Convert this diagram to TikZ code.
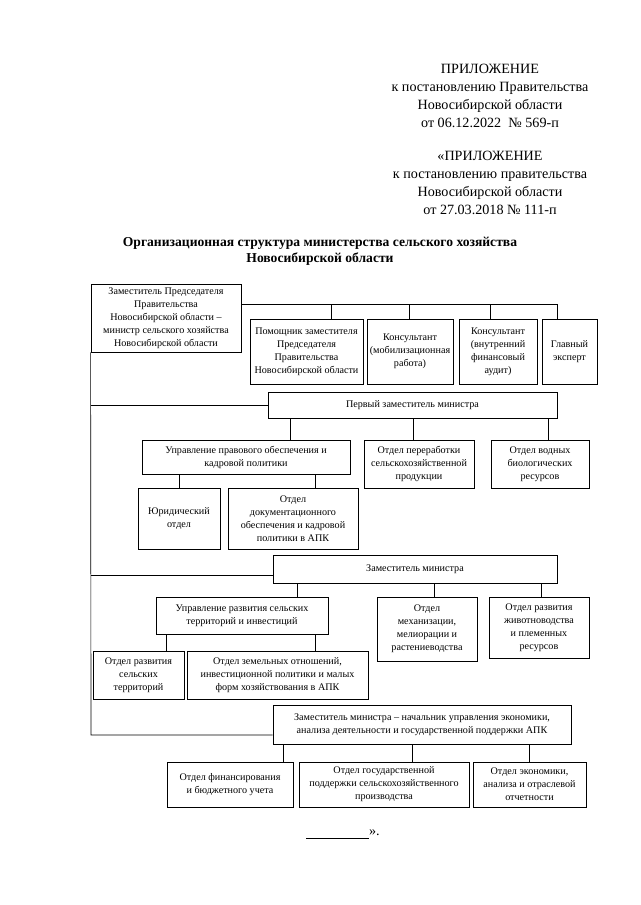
\documentclass[tikz,border=0pt]{standalone}
\usepackage{fontspec}
\setmainfont{Liberation Serif}
\usetikzlibrary{positioning}

\begin{document}
\begin{tikzpicture}[
  x=0.75pt, y=-0.75pt,
  box/.style={draw, align=center, inner sep=1pt, line width=0.6pt, font=\fontsize{7.6}{9.7}\selectfont},
  wd/.style={minimum width=#1*0.75pt},
  ht/.style={minimum height=#1*0.75pt},
  hdr/.style={align=center, inner sep=0pt, font=\fontsize{10.6}{13.5}\selectfont},
  link/.style={draw, line width=0.5pt}
]
\fill[white] (0,0) rectangle (640,905);
\useasboundingbox (0,0) rectangle (640,905);

\node[hdr] (app1) at (490,96) {ПРИЛОЖЕНИЕ\\к постановлению Правительства\\Новосибирской области\\от 06.12.2022\ \ №~569-п};
\node[hdr] (app2) at (490,183) {«ПРИЛОЖЕНИЕ\\к постановлению правительства\\Новосибирской области\\от 27.03.2018 №~111-п};
\node[align=center, inner sep=0pt, font=\fontsize{10.2}{12}\selectfont\bfseries] (title) at (320,251) {Организационная структура министерства сельского хозяйства\\Новосибирской области};

\node[box, wd=150, ht=68] (zam) at (166,318) {Заместитель Председателя\\Правительства\\Новосибирской области –\\министр сельского хозяйства\\Новосибирской области};
\node[box, wd=113, ht=65] (pom) at (306.5,351.5) {Помощник заместителя\\Председателя\\Правительства\\Новосибирской области};
\node[box, wd=86, ht=65] (kons1) at (410,351.5) {Консультант\\(мобилизационная\\работа)};
\node[box, wd=78, ht=65] (kons2) at (498,351.5) {Консультант\\(внутренний\\финансовый\\аудит)};
\node[box, wd=55, ht=65] (glav) at (569.5,351.5) {Главный\\эксперт};

\node[box, wd=289, ht=26] (perv) at (412.5,405) {Первый заместитель министра};
\node[box, wd=208, ht=34] (upr1) at (246,457) {Управление правового обеспечения и\\кадровой политики};
\node[box, wd=110, ht=48] (pererab) at (419,464) {Отдел переработки\\сельскохозяйственной\\продукции};
\node[box, wd=98, ht=48] (vodn) at (540,464) {Отдел водных\\биологических\\ресурсов};
\node[box, wd=82, ht=61] (yur) at (179,518.5) {Юридический\\отдел};
\node[box, wd=130, ht=61] (dok) at (293,518.5) {Отдел\\документационного\\обеспечения и кадровой\\политики в АПК};

\node[box, wd=284, ht=28] (zam2) at (415,569) {Заместитель министра};
\node[box, wd=172, ht=37] (upr2) at (242,615.5) {Управление развития сельских\\территорий и инвестиций};
\node[box, wd=100, ht=64] (mech) at (427,629) {Отдел\\механизации,\\мелиорации и\\растениеводства};
\node[box, wd=100, ht=61] (zhiv) at (539,627.5) {Отдел развития\\животноводства\\и племенных\\ресурсов};
\node[box, wd=91, ht=48] (razv) at (138.5,675) {Отдел развития\\сельских\\территорий};
\node[box, wd=181, ht=48] (zem) at (277.5,675) {Отдел земельных отношений,\\инвестиционной политики и малых\\форм хозяйствования в АПК};

\node[box, wd=298, ht=39] (zam3) at (422,724.5) {Заместитель министра – начальник управления экономики,\\анализа деятельности и государственной поддержки АПК};
\node[box, wd=126, ht=45] (fin) at (230,784.5) {Отдел финансирования\\и бюджетного учета};
\node[box, wd=170, ht=45] (gos) at (384,784.5) {Отдел государственной\\поддержки сельскохозяйственного\\производства};
\node[box, wd=113, ht=45] (econ) at (529.5,784.5) {Отдел экономики,\\анализа и отраслевой\\отчетности};

\node[inner sep=0pt, font=\fontsize{10.6}{13.5}\selectfont] (endmark) at (343,834) {\rule[-2pt]{47pt}{0.4pt}».};

\coordinate (b1) at (331,304);
\coordinate (b2) at (409,304);
\coordinate (b3) at (490,304);
\coordinate (b4) at (557,304);
\draw[link] (zam.east |- b1) -- (b4) -- (b4 |- glav.north);
\draw[link] (b1) -- (b1 |- pom.north);
\draw[link] (b2) -- (b2 |- kons1.north);
\draw[link] (b3) -- (b3 |- kons2.north);

\coordinate (l1) at (91,405);
\coordinate (l2) at (91,575);
\coordinate (l3) at (91,735);
\draw[link] (zam.south west) -- (l3) -- (l3 -| zam3.west);
\draw[link] (l1) -- (perv.west);
\draw[link] (l2) -- (l2 -| zam2.west);

\draw[link] (perv.south -| 290,0) -- (upr1.north -| 290,0);
\draw[link] (perv.south -| 413,0) -- (pererab.north -| 413,0);
\draw[link] (perv.south -| 548,0) -- (vodn.north -| 548,0);
\draw[link] (upr1.south -| yur.north) -- (yur.north);
\draw[link] (upr1.south -| 315,0) -- (dok.north -| 315,0);

\draw[link] (zam2.south -| 297,0) -- (upr2.north -| 297,0);
\draw[link] (zam2.south -| 434,0) -- (mech.north -| 434,0);
\draw[link] (zam2.south -| 541,0) -- (zhiv.north -| 541,0);
\draw[link] (upr2.south -| 166,0) -- (razv.north -| 166,0);
\draw[link] (upr2.south -| 315,0) -- (zem.north -| 315,0);

\draw[link] (zam3.south -| 283,0) -- (fin.north -| 283,0);
\draw[link] (zam3.south -| 412,0) -- (gos.north -| 412,0);
\draw[link] (zam3.south -| 529,0) -- (econ.north -| 529,0);
\end{tikzpicture}
\end{document}
